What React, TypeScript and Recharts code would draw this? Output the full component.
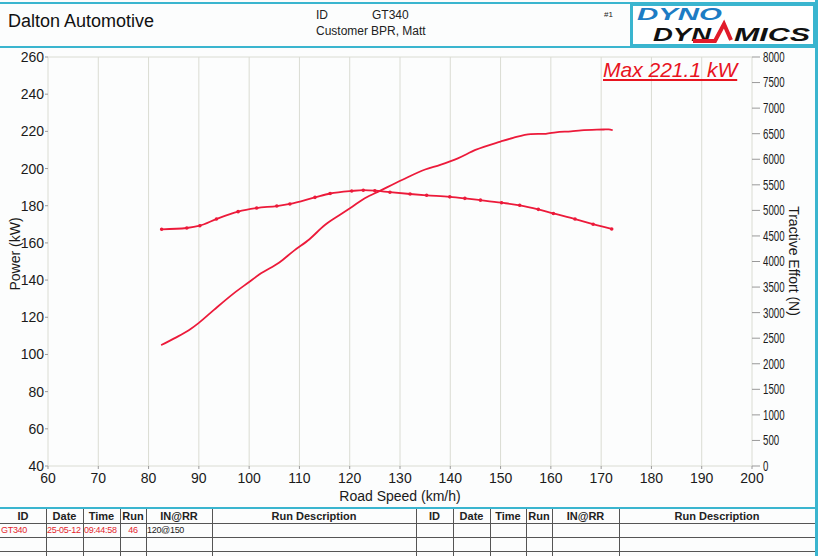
import React from 'react';
import { LineChart, Line, XAxis, YAxis, CartesianGrid } from 'recharts';

// axis ticks
const speedTicks = [60, 70, 80, 90, 100, 110, 120, 130, 140, 150, 160, 170, 180, 190, 200];
const powerTicks = [40, 60, 80, 100, 120, 140, 160, 180, 200, 220, 240, 260];
const effortTicks = [0, 500, 1000, 1500, 2000, 2500, 3000, 3500, 4000, 4500, 5000, 5500, 6000, 6500, 7000, 7500, 8000];

// power run (km/h, kW)
const powerSpeed = [82.5, 85, 88, 90, 93, 97, 100, 102, 106, 109, 112, 115, 118, 120.5, 123, 126, 130.5, 135, 138, 141.5, 145, 150, 152.5, 156, 159, 161, 164, 166, 170.5, 171.5, 172.3];
const powerKw = [105, 108.5, 113, 117, 124, 133, 139, 143, 149.5, 156, 162, 169.5, 175, 179.5, 184, 188, 194, 199.5, 202, 205.5, 210, 214.5, 216.5, 218.5, 218.7, 219.5, 220, 220.5, 221, 221.1, 220.6];

// tractive effort (km/h, N)
const effortSpeed = [82.6, 87.6, 90.2, 93.5, 97.8, 101.5, 105.5, 108.1, 113.1, 116.1, 120.4, 122.7, 125, 128, 132, 135.3, 139.9, 142.9, 146, 150.2, 153.8, 157.5, 160.5, 164.8, 168.4, 172.1];
const effortN = [4630, 4655, 4700, 4830, 4975, 5045, 5085, 5125, 5255, 5330, 5380, 5395, 5385, 5355, 5320, 5295, 5265, 5235, 5200, 5150, 5100, 5020, 4940, 4830, 4730, 4635];

// run table
const tableHeads = ['ID', 'Date', 'Time', 'Run', 'IN@RR', 'Run Description'];
const runValues = ['GT340', '25-05-12', '09:44:58', '46', '120@150', ''];

const powerData = powerSpeed.map((s, i) => ({ speed: s, power: powerKw[i] }));
const effortData = effortSpeed.map((s, i) => ({ speed: s, effort: effortN[i] }));

const RED = '#ec1a3a';
const CYAN = '#3ab5cf';
const FONT = '"Liberation Sans", Arial, sans-serif';
const tick = { fill: '#1a1a1a', fontSize: 14, fontFamily: FONT };

// column edges of the two halves of the run table
const colEdges = [[0, 46, 83, 120, 146, 212, 416], [416, 453, 490, 526, 552, 619, 815]];

// right axis labels are printed in a narrow face
const NarrowTick = (props: any) => {
  const { x, y, payload } = props;
  const label = String(payload.value);
  return (
    <text x={x} y={y} dy="0.35em" fontFamily={FONT} fontSize={14} fill="#1a1a1a"
      textLength={label.length * 5.4} lengthAdjust="spacingAndGlyphs">
      {label}
    </text>
  );
};

function Logo() {
  return (
    <div
      style={{
        position: 'absolute', left: 630, top: 3, width: 180, height: 38,
        border: `3px solid ${CYAN}`, background: '#fff',
      }}
    >
      <svg width={180} height={38} style={{ display: 'block' }}>
        <text x={4} y={14} fontFamily={FONT} fontWeight={900} fontStyle="italic" fontSize={16}
          fill="#1d7cc4" textLength={85} lengthAdjust="spacingAndGlyphs">DYNO</text>
        <text x={20} y={35} fontFamily={FONT} fontWeight={900} fontStyle="italic" fontSize={19}
          fill="#111" textLength={58} lengthAdjust="spacingAndGlyphs">DYN</text>
        <path d="M60 35 L82 35 L91 18 L98 34" fill="none" stroke="#e11b2a" strokeWidth={4} strokeLinejoin="miter" />
        <text x={101} y={35} fontFamily={FONT} fontWeight={900} fontStyle="italic" fontSize={19}
          fill="#111" textLength={76} lengthAdjust="spacingAndGlyphs">MICS</text>
      </svg>
    </div>
  );
}

function RunTable() {
  return (
    <div style={{ position: 'absolute', left: 0, top: 507, width: 818, height: 49, fontFamily: FONT }}>
      <div style={{ position: 'absolute', left: 0, top: 0, width: 815, height: 2, background: CYAN }} />
      {[16, 30, 44].map((y) => (
        <div key={`row-${y}`} style={{ position: 'absolute', left: 0, top: y, width: 815, height: 1, background: '#555' }} />
      ))}
      {colEdges.map((edges, h) =>
        edges.slice(1, -1).concat(h === 1 ? [edges[0]] : []).map((x) => (
          <div key={`col-${h}-${x}`} style={{ position: 'absolute', left: x, top: 2, width: 1, height: 47, background: '#555' }} />
        ))
      )}
      {colEdges.map((edges, h) =>
        tableHeads.map((t, i) => (
          <div
            key={`head-${h}-${t}`}
            style={{
              position: 'absolute', left: edges[i], width: edges[i + 1] - edges[i], top: 3,
              textAlign: 'center', fontSize: 11, fontWeight: 'bold', color: '#222', lineHeight: '13px',
              whiteSpace: 'nowrap',
            }}
          >
            {t}
          </div>
        ))
      )}
      {runValues.map((v, i) => (
        <div
          key={`val-${i}`}
          style={{
            position: 'absolute', left: colEdges[0][i] + 1, width: colEdges[0][i + 1] - colEdges[0][i] - 2, top: 17,
            textAlign: i === 3 ? 'center' : 'left', fontSize: 9, lineHeight: '13px', whiteSpace: 'nowrap',
            color: i === 4 ? '#222' : '#e3262e', letterSpacing: -0.3,
          }}
        >
          {v}
        </div>
      ))}
    </div>
  );
}

export default function App() {
  return (
    <div style={{ position: 'relative', width: 818, height: 556, background: '#fcfdfd', overflow: 'hidden', fontFamily: FONT }}>
      <style>{'body{margin:0}'}</style>

      {/* header */}
      <div style={{ position: 'absolute', left: 0, top: 2, width: 818, height: 2, background: CYAN }} />
      <div style={{ position: 'absolute', left: 0, top: 46, width: 818, height: 2, background: CYAN }} />
      <div style={{ position: 'absolute', left: 815, top: 0, width: 3, height: 556, background: CYAN }} />
      <div style={{ position: 'absolute', left: 8, top: 11, fontSize: 18, color: '#111' }}>Dalton Automotive</div>
      <div style={{ position: 'absolute', left: 316, top: 8, fontSize: 12, color: '#222' }}>ID</div>
      <div style={{ position: 'absolute', left: 372, top: 8, fontSize: 12, color: '#222' }}>GT340</div>
      <div style={{ position: 'absolute', left: 316, top: 24, fontSize: 12, color: '#222' }}>Customer</div>
      <div style={{ position: 'absolute', left: 371, top: 24, fontSize: 12, color: '#222' }}>BPR, Matt</div>
      <div style={{ position: 'absolute', left: 604, top: 10, fontSize: 8, color: '#222' }}>#1</div>
      <Logo />

      <div style={{ position: 'absolute', left: 0, top: 0 }}>
        <LineChart width={818} height={508} margin={{ top: 57, right: 0, bottom: 0, left: 0 }}>
          <CartesianGrid stroke="#dadcd3" strokeWidth={1} />
          <XAxis
            dataKey="speed"
            type="number"
            domain={[60, 200]}
            ticks={speedTicks}
            height={42}
            axisLine={false}
            tickSize={3}
            tickMargin={4}
            tickLine={{ stroke: '#999' }}
            tick={tick}
            allowDuplicatedCategory={false}
            label={{ value: 'Road Speed (km/h)', position: 'insideBottom', offset: 7, fill: '#1a1a1a', fontSize: 14, fontFamily: FONT }}
          />
          <YAxis
            yAxisId="power"
            orientation="left"
            domain={[40, 260]}
            ticks={powerTicks}
            width={48}
            axisLine={false}
            tickSize={3}
            tickMargin={1}
            tickLine={{ stroke: '#999' }}
            tick={tick}
          />
          <YAxis
            yAxisId="effort"
            orientation="right"
            domain={[0, 8000]}
            ticks={effortTicks}
            width={66}
            axisLine={false}
            tickSize={8}
            tickMargin={3}
            tickLine={{ stroke: '#999' }}
            tick={<NarrowTick />}
          />
          <Line
            yAxisId="power"
            data={powerData}
            dataKey="power"
            type="monotone"
            stroke={RED}
            strokeWidth={1.8}
            dot={false}
            isAnimationActive={false}
          />
          <Line
            yAxisId="effort"
            data={effortData}
            dataKey="effort"
            type="monotone"
            stroke={RED}
            strokeWidth={1.8}
            dot={{ r: 0.9, fill: RED, stroke: RED }}
            isAnimationActive={false}
          />
        </LineChart>
      </div>

      <div
        style={{
          position: 'absolute', left: 794, top: 261, transform: 'translate(-50%, -50%) rotate(90deg)',
          fontSize: 14, color: '#1a1a1a', whiteSpace: 'nowrap',
        }}
      >
        Tractive Effort (N)
      </div>
      <div
        style={{
          position: 'absolute', left: 15, top: 254, transform: 'translate(-50%, -50%) rotate(-90deg)',
          fontSize: 14, color: '#1a1a1a', whiteSpace: 'nowrap',
        }}
      >
        Power (kW)
      </div>

      <div
        style={{
          position: 'absolute', left: 603, top: 58, fontSize: 21, fontStyle: 'italic', color: '#e8141f',
          textDecoration: 'underline', textUnderlineOffset: 2, whiteSpace: 'nowrap',
        }}
      >
        Max 221.1 kW
      </div>

      <RunTable />
    </div>
  );
}
